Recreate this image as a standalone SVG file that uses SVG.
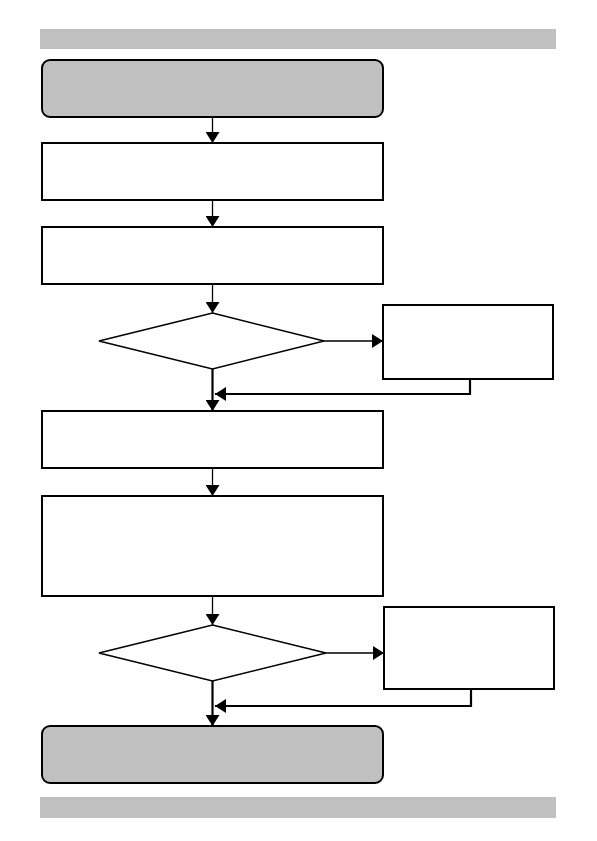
<svg xmlns="http://www.w3.org/2000/svg" width="597" height="841" viewBox="0 0 597 841">
<style>
.bar{fill:#C0C0C0;stroke:none}
.term{fill:#C0C0C0;stroke:#000;stroke-width:2}
.box{fill:#fff;stroke:#000;stroke-width:2}
.dec{fill:#fff;stroke:#000;stroke-width:1.5}
.c{fill:none;stroke:#000;stroke-width:1.3}
.ct{fill:none;stroke:#000;stroke-width:2.2}
</style>
<defs>
<marker id="ah" viewBox="0 0 11 14" refX="11" refY="7" markerWidth="11" markerHeight="14" markerUnits="userSpaceOnUse" orient="auto">
<path d="M0,0 L11,7 L0,14 z" fill="#000"/>
</marker>
</defs>
<rect class="bar" x="40" y="29" width="516" height="20"/>
<rect class="bar" x="40" y="797" width="516" height="21"/>
<g id="connectors">
<path class="c" d="M212.5,117 V143" marker-end="url(#ah)"/>
<path class="c" d="M212.5,200 V227" marker-end="url(#ah)"/>
<path class="c" d="M212.5,284 V313" marker-end="url(#ah)"/>
<path class="c" d="M324,341 H383" marker-end="url(#ah)"/>
<path class="ct" d="M212.5,369 V411" marker-end="url(#ah)"/>
<path class="ct" d="M470,379 V394 H215" marker-end="url(#ah)"/>
<path class="c" d="M212.5,468 V496" marker-end="url(#ah)"/>
<path class="c" d="M212.5,596 V625" marker-end="url(#ah)"/>
<path class="c" d="M326,653 H384" marker-end="url(#ah)"/>
<path class="ct" d="M212.5,681 V726" marker-end="url(#ah)"/>
<path class="ct" d="M471,689 V706 H215" marker-end="url(#ah)"/>
</g>
<g id="start"><rect class="term" x="42" y="60" width="341" height="57" rx="8"/></g>
<g id="box1"><rect class="box" x="42" y="143" width="341" height="57"/></g>
<g id="box2"><rect class="box" x="42" y="227" width="341" height="57"/></g>
<g id="decision1"><polygon class="dec" points="212.5,313 324,341 212.5,369 99,341"/></g>
<g id="side1"><rect class="box" x="383" y="305" width="170" height="74"/></g>
<g id="box3"><rect class="box" x="42" y="411" width="341" height="57"/></g>
<g id="box4"><rect class="box" x="42" y="496" width="341" height="100"/></g>
<g id="decision2"><polygon class="dec" points="212.5,625 326,653 212.5,681 99,653"/></g>
<g id="side2"><rect class="box" x="384" y="607" width="170" height="82"/></g>
<g id="end"><rect class="term" x="42" y="726" width="341" height="57" rx="8"/></g>
</svg>
